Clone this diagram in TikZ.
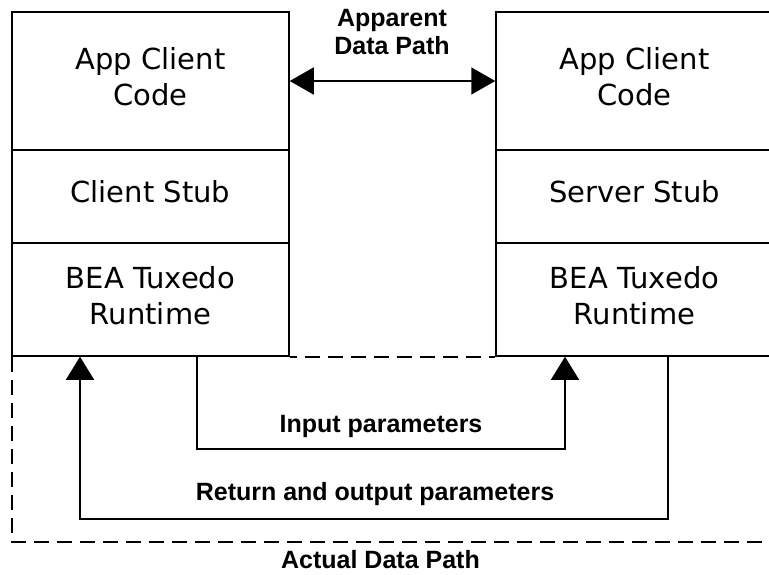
\documentclass[tikz,border=0pt]{standalone}
\usepackage{fontspec}
\setmainfont{DejaVu Sans}
\newfontfamily\labfont{Liberation Sans}
\usetikzlibrary{arrows.meta}
\begin{document}
\begin{tikzpicture}[x=1pt,y=-1pt,
  sect/.style={draw, line width=1.5pt, minimum width=277pt, inner sep=0pt},
  boxtxt/.style={font=\fontsize{29}{36}\selectfont, align=center, inner sep=0pt},
  lab/.style={font=\labfont\bfseries\fontsize{25}{28}\selectfont, align=center, inner sep=0pt},
  conn/.style={line width=1.5pt, -{Triangle[length=23pt,width=28pt]}},
  twoway/.style={line width=1.5pt, {Triangle[length=24pt,width=27pt]}-{Triangle[length=24pt,width=27pt]}},
  dashbox/.style={line width=1.6pt, dash pattern=on 15pt off 8pt}]
\useasboundingbox (0,0) rectangle (769,574);
\clip (0,0) rectangle (769,574);
% left stack
\node[sect, minimum height=138pt] (lcode) at (150.5,81) {};
\node[sect, minimum height=93pt] (lstub) at (150.5,196.5) {};
\node[sect, minimum height=113pt] (lrt) at (150.5,299.5) {};
% right stack
\node[sect, minimum height=138pt] (rcode) at (634.5,81) {};
\node[sect, minimum height=93pt] (rstub) at (634.5,196.5) {};
\node[sect, minimum height=113pt] (rrt) at (634.5,299.5) {};
% texts
\node[boxtxt] (tlcode) at (150.5,77) {App Client\\Code};
\node[boxtxt] (tlstub) at (150.5,192) {Client Stub};
\node[boxtxt] (tlrt) at (150.5,296) {BEA Tuxedo\\Runtime};
\node[boxtxt] (trcode) at (634.5,77) {App Client\\Code};
\node[boxtxt] (trstub) at (634.5,192) {Server Stub};
\node[boxtxt] (trrt) at (634.5,296) {BEA Tuxedo\\Runtime};
% apparent path
\draw[twoway] (lcode.east) -- (rcode.west);
\node[lab] (app) at (392,32) {Apparent\\Data Path};
% actual path (dashed)
\draw[dashbox] ([xshift=0.75pt]lrt.south west) -- ++(0,185) -- (800,541.75);
\draw[dashbox, dash phase=8pt] (lrt.south east) -- (rrt.south west);
% input parameters
\draw[conn] ([xshift=46.5pt]lrt.south) -- ++(0,92) -| ([xshift=-69.5pt]rrt.south);
% return parameters
\draw[conn] ([xshift=33.5pt]rrt.south) -- ++(0,162) -| ([xshift=-70.5pt]lrt.south);
\node[lab, anchor=base] (inp) at (381,432.7) {Input parameters};
\node[lab, anchor=base] (ret) at (375,500) {Return and output parameters};
\node[lab, anchor=base] (act) at (380.5,568.5) {Actual Data Path};
\end{tikzpicture}
\end{document}
